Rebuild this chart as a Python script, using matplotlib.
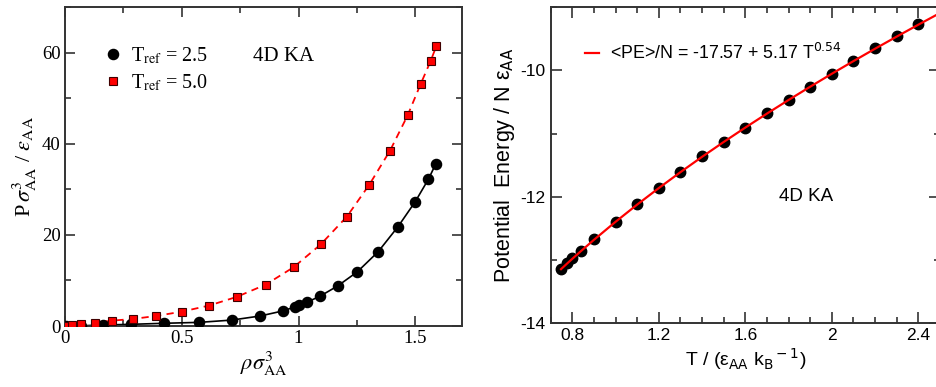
import matplotlib
matplotlib.use("Agg")
import matplotlib.pyplot as plt
from matplotlib.ticker import MultipleLocator
import numpy as np

# ------------------------------------------------------------------
# Dados
# ------------------------------------------------------------------
# painel esquerdo: pressão vs densidade
rho_t25 = [0.005, 0.067, 0.163, 0.284, 0.426, 0.575, 0.714, 0.836, 0.932,
           0.985, 1.003, 1.036, 1.094, 1.168, 1.252, 1.341, 1.426, 1.5,
           1.556, 1.587]
p_t25 = [0.0, 0.05, 0.22, 0.37, 0.6, 0.8, 1.3, 2.2, 3.3, 4.2, 4.6, 5.2,
         6.6, 8.8, 11.9, 16.3, 21.8, 27.3, 32.2, 35.5]

rho_t50 = [0.005, 0.03, 0.067, 0.13, 0.2, 0.29, 0.39, 0.5, 0.618, 0.736,
           0.86, 0.979, 1.095, 1.207, 1.303, 1.392, 1.467, 1.523, 1.566,
           1.59]
p_t50 = [0.0, 0.15, 0.37, 0.73, 1.17, 1.54, 2.2, 3.15, 4.5, 6.4, 9.1, 12.9,
         17.9, 24.0, 31.0, 38.5, 46.2, 53.1, 58.2, 61.4]

# painel direito: energia potencial vs temperatura
temp = [0.748, 0.777, 0.8, 0.84, 0.9, 1.0, 1.1, 1.2, 1.3, 1.4, 1.5, 1.6,
        1.7, 1.8, 1.9, 2.0, 2.1, 2.2, 2.3, 2.4]
pe = [-13.15, -13.05, -12.98, -12.86, -12.68, -12.40, -12.12, -11.86,
      -11.61, -11.36, -11.13, -10.905, -10.68, -10.47, -10.26, -10.05,
      -9.85, -9.65, -9.45, -9.265]

# ajuste <PE>/N = a + b T^c
FIT_A, FIT_B, FIT_C = -17.57, 5.17, 0.54
temp_fit = temp + [2.5]

plt.rcParams["axes.unicode_minus"] = False

fig = plt.figure(figsize=(9.36, 3.87), dpi=100)

SPINE = "#333333"

# ------------------------------------------------------------------
# Painel esquerdo
# ------------------------------------------------------------------
ax1 = fig.add_axes([0.0694, 0.1576, 0.4242, 0.8243])
serif = "Liberation Serif"

ax1.plot(rho_t25, p_t25, color="black", linewidth=1.2, zorder=2)
ax1.plot(rho_t50, p_t50, color="red", linewidth=1.3, linestyle=(0, (4, 3)),
         zorder=2)
ax1.plot(rho_t25, p_t25, linestyle="none", marker="o", markersize=7.3,
         color="black", label=r"T$_{\rm ref}$ = 2.5", zorder=3)
ax1.plot(rho_t50, p_t50, linestyle="none", marker="s", markersize=6.3,
         markerfacecolor="red", markeredgecolor="#400000",
         markeredgewidth=0.8, label=r"T$_{\rm ref}$ = 5.0", zorder=4)

ax1.set_xlim(0, 1.7)
ax1.set_ylim(0, 70)
ax1.xaxis.set_major_locator(MultipleLocator(0.5))
ax1.xaxis.set_minor_locator(MultipleLocator(0.25))
ax1.yaxis.set_major_locator(MultipleLocator(20))
ax1.yaxis.set_minor_locator(MultipleLocator(10))
ax1.set_xticks([0, 0.5, 1, 1.5])
ax1.set_xticklabels(["0", "0.5", "1", "1.5"])
ax1.tick_params(which="both", direction="in", top=True, right=True,
                color=SPINE, width=1.2)
ax1.tick_params(which="major", length=7, labelsize=13.5, pad=3)
ax1.tick_params(which="minor", length=4)
for lab in ax1.get_xticklabels() + ax1.get_yticklabels():
    lab.set_fontfamily(serif)
for s in ax1.spines.values():
    s.set_color(SPINE)
    s.set_linewidth(1.4)

ax1.set_xlabel(r"$\rho\sigma^{3}_{\rm AA}$", fontsize=16, labelpad=2,
               math_fontfamily="stix")
ax1.set_ylabel(r"P$\,\sigma^{3}_{\rm AA}$ / $\varepsilon_{\rm AA}$",
               fontsize=16, fontfamily=serif, math_fontfamily="stix",
               labelpad=2)

leg1 = ax1.legend(loc="upper left", bbox_to_anchor=(0.08, 0.905),
                  frameon=False, handlelength=0.8, handletextpad=0.5,
                  labelspacing=0.3, borderaxespad=0,
                  prop={"family": serif, "size": 14.5})
for t in leg1.get_texts():
    t.set_math_fontfamily("stix")

ax1.text(0.473, 0.846, "4D KA", transform=ax1.transAxes, fontsize=15,
         fontfamily=serif, ha="left", va="center")

# ------------------------------------------------------------------
# Painel direito
# ------------------------------------------------------------------
ax2 = fig.add_axes([0.5883, 0.166, 0.4159, 0.815])
sans = "Liberation Sans"

fit_vals = [FIT_A + FIT_B * t ** FIT_C for t in temp_fit]
ax2.plot(temp, pe, linestyle="none", marker="o", markersize=7.5,
         color="black", zorder=2)
ax2.plot(temp_fit, fit_vals, color="red", linewidth=1.6, zorder=3,
         label=r"<PE>/N = -17.57 + 5.17 T$^{0.54}$")

ax2.set_xlim(0.7, 2.5)
ax2.set_ylim(-14, -9)
ax2.set_xticks([0.8, 1.2, 1.6, 2.0, 2.4])
ax2.set_xticklabels(["0.8", "1.2", "1.6", "2", "2.4"])
ax2.xaxis.set_minor_locator(MultipleLocator(0.1))
ax2.set_yticks([-14, -12, -10])
ax2.yaxis.set_minor_locator(MultipleLocator(1))
ax2.tick_params(which="both", direction="in", top=True, right=True,
                color=SPINE, width=1.2)
ax2.tick_params(which="major", length=8, labelsize=12.5, pad=4)
ax2.tick_params(which="minor", length=4.5)
for lab in ax2.get_xticklabels() + ax2.get_yticklabels():
    lab.set_fontfamily(sans)
for s in ax2.spines.values():
    s.set_color(SPINE)
    s.set_linewidth(1.4)

ax2.set_xlabel(r"T / (ε$_{\rm AA}$ k$_{\rm B}$$^{\rm -1}$)", fontsize=14,
               fontfamily=sans, math_fontfamily="dejavusans", labelpad=2)
ax2.set_ylabel(r"Potential  Energy / N ε$_{\rm AA}$", fontsize=15.5,
               fontfamily=sans, math_fontfamily="dejavusans", labelpad=2)

leg2 = ax2.legend(loc="upper left", bbox_to_anchor=(0.07, 0.91),
                  frameon=False, handlelength=0.8, handletextpad=0.6,
                  borderaxespad=0, prop={"family": sans, "size": 12.8})
for t in leg2.get_texts():
    t.set_math_fontfamily("dejavusans")

ax2.text(0.656, 0.40, "4D KA", transform=ax2.transAxes, fontsize=13.5,
         fontfamily=sans, ha="center", va="center")

fig.savefig("out.png", dpi=100)
